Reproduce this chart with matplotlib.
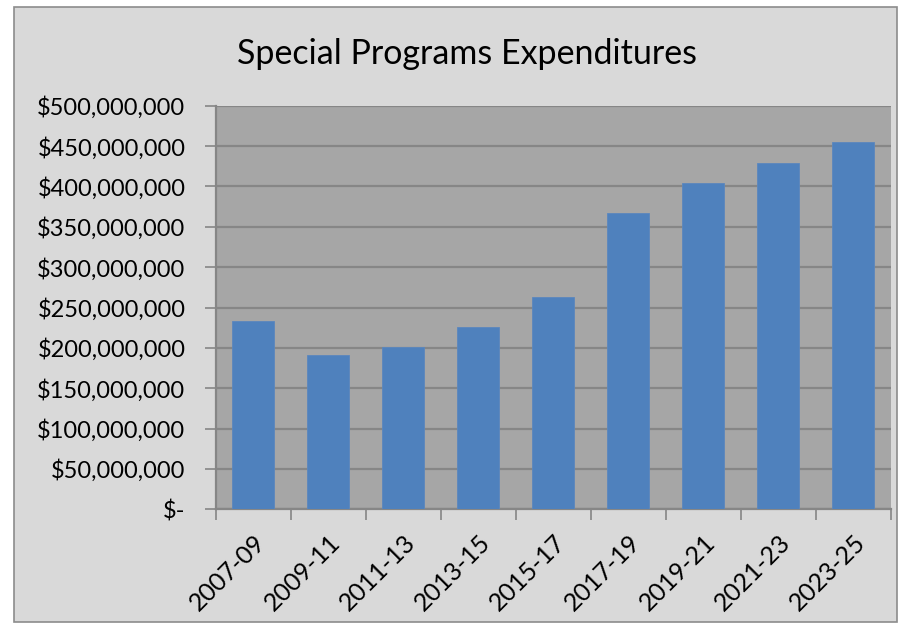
import numpy as np
import matplotlib.pyplot as plt
from matplotlib.patches import Rectangle
from matplotlib.ticker import FuncFormatter

periods = ['2007-09', '2009-11', '2011-13', '2013-15', '2015-17',
           '2017-19', '2019-21', '2021-23', '2023-25']
expenditures = [233_000_000, 191_500_000, 201_000_000, 225_500_000, 263_000_000,
                367_000_000, 404_000_000, 428_500_000, 454_500_000]
y_ticks = np.arange(0, 500_000_001, 50_000_000)

plt.rcParams['font.family'] = ['Lato', 'DejaVu Sans']

outer_bg = '#D9D9D9'
plot_bg = '#A6A6A6'
bar_color = '#4F81BD'
line_color = '#868686'


def money(v, pos):
    if v == 0:
        return '$-'
    return '${:,.0f}'.format(v)


fig = plt.figure(figsize=(9.03, 6.25), dpi=100)
fig.patch.set_facecolor('white')
# chart area with thin border, kept behind the axes
border = Rectangle((14 / 903, 3 / 625), 883 / 903, 615 / 625,
                   transform=fig.transFigure, facecolor=outer_bg,
                   edgecolor='#8C8C8C', linewidth=1.2, zorder=-10)
fig.patches.append(border)

ax = fig.add_axes([216 / 903, (625 - 509.3) / 625, 675 / 903, 403.6 / 625])
ax.set_facecolor(plot_bg)

x = np.arange(len(periods))
ax.bar(x, expenditures, width=0.56, color=bar_color, edgecolor='#5B87BE',
       linewidth=0.6, zorder=3)

ax.set_xlim(-0.5, len(periods) - 0.5)
ax.set_ylim(0, 500_000_000)
ax.set_yticks(y_ticks)
ax.yaxis.set_major_formatter(FuncFormatter(money))
ax.grid(axis='y', color=line_color, linewidth=1.6, zorder=1)
ax.set_axisbelow(True)

# category boundaries get the tick marks, labels sit at bar centres
ax.set_xticks(np.arange(-0.5, len(periods), 1.0))
ax.set_xticklabels([])
ax.set_xticks(x, minor=True)
ax.set_xticklabels(periods, minor=True, rotation=45, ha='right', va='top',
                   rotation_mode='anchor', fontsize=18)
ax.tick_params(axis='x', which='major', length=8, width=1.2, color=line_color,
               direction='out')
ax.tick_params(axis='x', which='minor', length=0, pad=15)
ax.tick_params(axis='y', length=8, width=1.2, color=line_color,
               direction='out', labelsize=17, pad=14)

for side in ['top', 'right']:
    ax.spines[side].set_visible(False)
ax.spines['left'].set_color(line_color)
ax.spines['left'].set_linewidth(1.6)
ax.spines['bottom'].set_color(line_color)
ax.spines['bottom'].set_linewidth(1.6)

fig.text(467 / 903, 1 - 54 / 625, 'Special Programs Expenditures',
         ha='center', va='center', fontsize=24.5)

fig.savefig('out.png', dpi=100, facecolor=fig.get_facecolor())
